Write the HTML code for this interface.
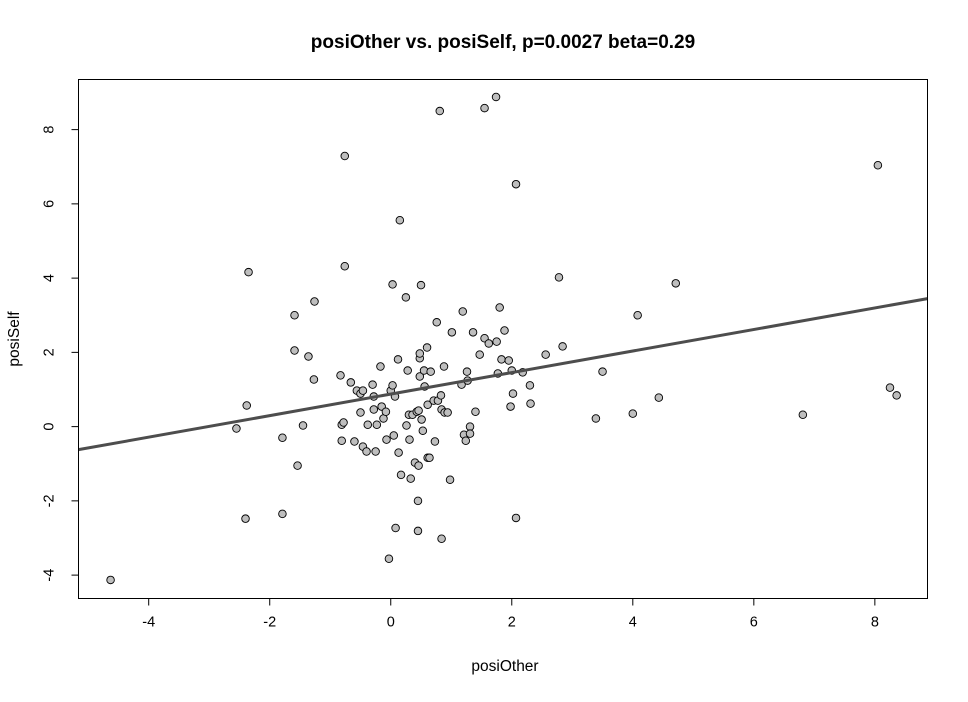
<!DOCTYPE html>
<html><head><meta charset="utf-8"><style>
body{margin:0;background:#fff}
svg text{font-family:"Liberation Sans",Arial,sans-serif;fill:#000}
</style></head><body>
<svg id="chart" width="968" height="697" viewBox="0 0 968 697" xmlns="http://www.w3.org/2000/svg">
<rect width="968" height="697" fill="#fff"/>
<text x="503" y="48" text-anchor="middle" font-size="19" font-weight="bold">posiOther vs. posiSelf, p=0.0027 beta=0.29</text>
<text x="505" y="671" text-anchor="middle" font-size="15.5">posiOther</text>
<text x="0" y="0" transform="translate(19,339) rotate(-90)" text-anchor="middle" font-size="15.5">posiSelf</text>
<g id="marks"></g>
<rect x="78.5" y="79.5" width="849" height="519" fill="none" stroke="#000" stroke-width="1"/>
</svg>
<script>
const xTicks=[-4,-2,0,2,4,6,8];
const yTicks=[-4,-2,0,2,4,6,8];
const xVals=[-4.63,-2.55,-2.38,-2.40,-2.35,-1.79,-1.79,-1.59,-1.59,-1.54,-1.45,-1.36,-1.27,-1.26,-0.83,-0.81,-0.81,-0.78,-0.76,-0.76,-0.66,-0.60,-0.56,-0.50,-0.50,-0.46,-0.46,-0.40,-0.38,-0.30,-0.28,-0.25,-0.28,-0.23,-0.17,-0.15,-0.12,-0.08,-0.07,-0.03,0,0.03,0.05,0.03,0.07,0.08,0.13,0.12,0.17,0.15,0.25,0.26,0.28,0.30,0.31,0.33,0.36,0.40,0.43,0.45,0.46,0.45,0.46,0.48,0.48,0.48,0.51,0.50,0.53,0.55,0.56,0.60,0.61,0.61,0.64,0.66,0.71,0.73,0.76,0.78,0.81,0.83,0.84,0.84,0.88,0.89,0.94,0.98,1.01,1.17,1.19,1.21,1.24,1.26,1.27,1.31,1.31,1.36,1.40,1.47,1.55,1.55,1.62,1.74,1.75,1.77,1.80,1.83,1.88,1.95,1.98,2.02,2.00,2.07,2.07,2.18,2.30,2.31,2.56,2.78,2.84,3.39,3.50,4.00,4.08,4.43,4.71,6.81,8.05,8.25,8.36];
const yVals=[-4.13,-0.05,0.57,-2.48,4.16,-0.30,-2.35,3.00,2.05,-1.05,0.03,1.89,1.27,3.37,1.38,0.05,-0.38,0.11,7.29,4.32,1.19,-0.40,0.97,0.89,0.38,-0.54,0.97,-0.67,0.05,1.13,0.81,-0.67,0.46,0.05,1.62,0.54,0.22,0.40,-0.35,-3.56,0.97,1.11,-0.24,3.83,0.81,-2.73,-0.70,1.81,-1.30,5.56,3.48,0.03,1.51,0.32,-0.35,-1.40,0.32,-0.97,0.40,-2.00,0.43,-2.81,-1.05,1.84,1.97,1.35,0.19,3.81,-0.11,1.51,1.08,2.13,0.59,-0.84,-0.84,1.48,0.70,-0.40,2.81,0.70,8.50,0.84,0.46,-3.02,1.62,0.38,0.38,-1.43,2.54,1.13,3.10,-0.22,-0.38,1.48,1.24,0,-0.19,2.54,0.40,1.94,8.58,2.38,2.24,8.88,2.29,1.43,3.21,1.81,2.59,1.78,0.54,0.89,1.51,6.53,-2.46,1.46,1.11,0.62,1.94,4.02,2.16,0.22,1.48,0.35,3.00,0.78,3.86,0.32,7.04,1.05,0.84];
const fitIntercept=0.876, fitSlope=0.29;
const X0=78.5,X1=927.5,Y0=79.5,Y1=598.5;
const xMin=-5.16,xMax=8.87,yMin=-4.63,yMax=9.35;
const sx=v=>X0+(v-xMin)/(xMax-xMin)*(X1-X0);
const sy=v=>Y1-(v-yMin)/(yMax-yMin)*(Y1-Y0);
const NS='http://www.w3.org/2000/svg';
const g=document.getElementById('marks');
function mk(t,a){const e=document.createElementNS(NS,t);for(const k in a)e.setAttribute(k,a[k]);g.appendChild(e);return e;}
xTicks.forEach(t=>{
  const l=mk('line',{x1:sx(t),x2:sx(t),y1:Y1,y2:Y1+7,stroke:'#000'});
  
  
  const tx=mk('text',{x:sx(t),y:Y1+28,'text-anchor':'middle','font-size':'14.5'});
  tx.textContent=t;
  
  
});
yTicks.forEach(t=>{
  const l=mk('line',{x1:X0-7,x2:X0,y1:sy(t),y2:sy(t),stroke:'#000'});
  
  
  const tx=mk('text',{x:0,y:0,transform:`translate(${X0-29},${sy(t)}) rotate(-90)`,'text-anchor':'middle','dominant-baseline':'middle','font-size':'14.5'});
  tx.textContent=t;
  
  
});
xVals.forEach((v,i)=>{
  const c=mk('circle',{cx:sx(v),cy:sy(yVals[i]),r:3.8,fill:'#bebebe',stroke:'#000','stroke-width':0.9});
  
  
});
const fl=mk('line',{x1:X0,x2:X1,y1:sy(fitIntercept+fitSlope*xMin),y2:sy(fitIntercept+fitSlope*xMax),stroke:'#4d4d4d','stroke-width':3});


</script>
</body></html>
